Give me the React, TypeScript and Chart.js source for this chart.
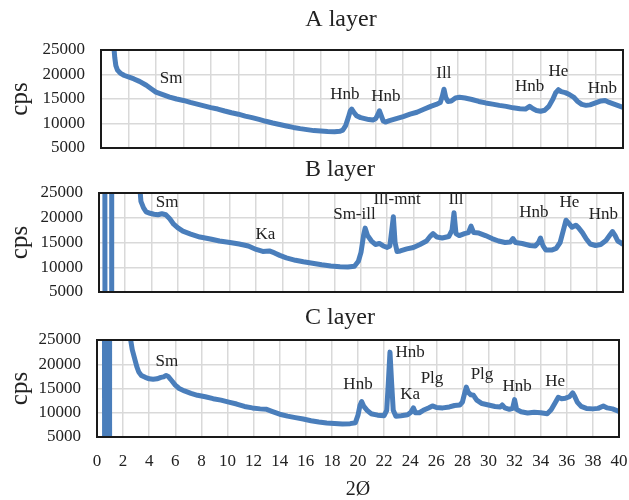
import React, { useEffect, useRef } from 'react';
import { Chart, registerables } from 'chart.js';

Chart.register(...registerables);

// ---------- data ----------
const yTickValues = [5000, 10000, 15000, 20000, 25000];
const xTickStep = 2;

// A layer
const aAngle = [2.94, 3.0, 3.08, 3.2, 3.4, 3.7, 4.0, 4.4, 4.8, 5.3, 5.7, 6.0, 6.5, 7.0, 7.5, 8.0, 8.5, 9.0, 9.5, 10.0, 10.5, 11.0, 11.5, 12.0, 12.5, 13.0, 13.5, 14.0, 14.5, 15.0, 15.5, 16.0, 16.5, 17.0, 17.5, 18.0, 18.5, 19.0, 19.4, 19.6, 19.8, 20.0, 20.15, 20.25, 20.4, 20.6, 20.9, 21.2, 21.5, 21.8, 22.0, 22.15, 22.27, 22.4, 22.55, 22.7, 23.0, 23.5, 24.0, 24.5, 25.0, 25.5, 26.0, 26.4, 26.7, 26.85, 26.97, 27.1, 27.25, 27.5, 27.8, 28.1, 28.5, 29.0, 29.5, 30.0, 30.5, 31.0, 31.5, 32.0, 32.5, 32.9, 33.2, 33.45, 33.7, 34.0, 34.3, 34.6, 34.9, 35.1, 35.3, 35.5, 35.8, 36.1, 36.4, 36.7, 37.0, 37.3, 37.6, 38.0, 38.4, 38.7, 39.0, 39.3, 39.6, 40.0];
const aCps = [25500, 23500, 21800, 20900, 20300, 19800, 19500, 19100, 18600, 17800, 17000, 16400, 15900, 15400, 15000, 14700, 14300, 13950, 13600, 13250, 12950, 12550, 12200, 11900, 11500, 11200, 10850, 10450, 10100, 9800, 9500, 9200, 8950, 8750, 8550, 8450, 8350, 8300, 8400, 8650, 9500, 11200, 12600, 12950, 12300, 11600, 11200, 11000, 10800, 10700, 11000, 11800, 12600, 11600, 10500, 10300, 10600, 11000, 11400, 11900, 12300, 12900, 13500, 13900, 14300, 15600, 17000, 15300, 14500, 14600, 15200, 15350, 15200, 14900, 14500, 14200, 13950, 13700, 13500, 13200, 13000, 12950, 13500, 13000, 12650, 12500, 12700, 13500, 15000, 16300, 16900, 16500, 16300, 15900, 15400, 14500, 13900, 13700, 13800, 14200, 14600, 14700, 14300, 14000, 13700, 13300];
const aPeakNames = ['Sm', 'Hnb', 'Hnb', 'Ill', 'Hnb', 'He', 'Hnb'];
const aPeakAngle = [7.1, 19.76, 22.74, 26.96, 33.2, 35.3, 38.5];
const aPeakCps = [19080, 15820, 15410, 20100, 17450, 20700, 17040];

// B layer
const bAngle = [0.44, 0.46, 0.95, 0.97, 3.0, 3.12, 3.2, 3.4, 3.6, 3.9, 4.2, 4.5, 4.8, 5.1, 5.4, 5.7, 6.0, 6.4, 7.0, 7.7, 8.5, 9.2, 10.0, 10.7, 11.4, 12.0, 12.5, 13.0, 13.4, 13.8, 14.3, 15.0, 15.6, 16.3, 17.0, 17.7, 18.4, 19.0, 19.5, 19.8, 20.0, 20.2, 20.32, 20.5, 20.8, 21.1, 21.4, 21.7, 22.0, 22.2, 22.35, 22.47, 22.6, 22.75, 23.0, 23.5, 24.0, 24.5, 25.0, 25.3, 25.5, 25.8, 26.2, 26.7, 26.95, 27.1, 27.25, 27.5, 27.9, 28.2, 28.4, 28.6, 29.0, 29.5, 30.0, 30.5, 31.0, 31.4, 31.6, 31.8, 32.3, 32.9, 33.3, 33.55, 33.7, 33.9, 34.1, 34.6, 34.9, 35.2, 35.45, 35.65, 35.85, 36.1, 36.4, 36.6, 36.9, 37.2, 37.5, 37.9, 38.3, 38.7, 39.0, 39.2, 39.4, 39.6, 39.8, 40.0];
const bCps = [60000, -20000, -20000, 60000, 60000, 26000, 23300, 22000, 21200, 20900, 20700, 20600, 20800, 20600, 19800, 18700, 18000, 17300, 16700, 16100, 15700, 15300, 15000, 14700, 14300, 13600, 13200, 13300, 12900, 12400, 11900, 11400, 11100, 10800, 10500, 10250, 10100, 10050, 10200, 11200, 13000, 16500, 17900, 16400, 15300, 14600, 14800, 14300, 14000, 14300, 17500, 20200, 15000, 13200, 13300, 13700, 14000, 14600, 15300, 16300, 16800, 16100, 15900, 16200, 17500, 21000, 16800, 16400, 16800, 17000, 18300, 17000, 16900, 16400, 15800, 15300, 15000, 15100, 15800, 15000, 14800, 14400, 14300, 15000, 15900, 14300, 13500, 13500, 13800, 15000, 17500, 19500, 18900, 18100, 18500, 18000, 17000, 15700, 14700, 14400, 14600, 15400, 16500, 17200, 16400, 15300, 15000, 14600];
const bPeakNames = ['Sm', 'Ka', 'Sm-ill', 'Ill-mnt', 'Ill', 'Hnb', 'He', 'Hnb'];
const bPeakAngle = [5.2, 12.7, 19.5, 22.75, 27.25, 33.2, 35.9, 38.5];
const bPeakCps = [22980, 16520, 20560, 23590, 23590, 20960, 22980, 20560];

// C layer
const cAngle = [0.56, 0.59, 0.62, 0.65, 0.68, 0.71, 0.74, 0.77, 0.8, 0.83, 0.86, 0.89, 0.92, 0.95, 0.98, 2.5, 2.55, 2.7, 2.9, 3.05, 3.2, 3.4, 3.7, 4.0, 4.3, 4.6, 4.9, 5.1, 5.3, 5.45, 5.7, 6.0, 6.3, 6.7, 7.2, 7.7, 8.3, 8.9, 9.5, 10.1, 10.7, 11.3, 11.9, 12.5, 13.0, 13.4, 14.0, 14.6, 15.2, 15.8, 16.4, 17.0, 17.6, 18.2, 18.8, 19.4, 19.8, 20.0, 20.15, 20.28, 20.45, 20.7, 21.0, 21.5, 22.0, 22.2, 22.32, 22.45, 22.58, 22.7, 22.9, 23.3, 23.8, 24.05, 24.25, 24.4, 24.7, 25.0, 25.4, 25.7, 26.0, 26.5, 27.0, 27.4, 27.8, 28.0, 28.15, 28.3, 28.45, 28.65, 28.85, 29.1, 29.5, 30.0, 30.5, 30.9, 31.05, 31.25, 31.6, 31.85, 32.0, 32.15, 32.5, 33.0, 33.5, 34.0, 34.5, 34.8, 35.1, 35.35, 35.6, 35.9, 36.2, 36.45, 36.6, 36.8, 37.1, 37.5, 38.0, 38.4, 38.8, 39.1, 39.5, 40.0];
const cCps = [60000, -20000, 60000, -20000, 60000, -20000, 60000, -20000, 60000, -20000, 60000, -20000, 60000, -20000, 60000, 60000, 25500, 23000, 21000, 19500, 18400, 17700, 17300, 17000, 16900, 17000, 17300, 17400, 17700, 17500, 16700, 15700, 15000, 14500, 14000, 13600, 13300, 12900, 12600, 12200, 11800, 11300, 11000, 10800, 10700, 10300, 9700, 9300, 9000, 8700, 8350, 8100, 7900, 7800, 7700, 7750, 7950, 9500, 11500, 12300, 11300, 10500, 9800, 9500, 9400, 10500, 16000, 22500, 16000, 10500, 9300, 9400, 9600, 10100, 11000, 10000, 10000, 10500, 11000, 11400, 11100, 11000, 11200, 11500, 11600, 12200, 13800, 15300, 14200, 13700, 13600, 12600, 11900, 11600, 11300, 11200, 11600, 11000, 10700, 10900, 12700, 10700, 10200, 9950, 10100, 10000, 9800, 10600, 12000, 13200, 12900, 13000, 13300, 14100, 13400, 12200, 11300, 10900, 10800, 10900, 11400, 11000, 10800, 10300];
const cPeakNames = ['Sm', 'Hnb', 'Hnb', 'Ka', 'Plg', 'Plg', 'Hnb', 'He'];
const cPeakAngle = [5.36, 20.0, 24.0, 24.0, 25.67, 29.5, 32.2, 35.1];
const cPeakCps = [20470, 15730, 22320, 13670, 16970, 17790, 15320, 16350];

// ---------- styling ----------
const SERIF = "'Liberation Serif', 'Times New Roman', serif";
const TEXT = '#222222';
const LINE = '#4a7ebb';
const GRID = '#d9d9d9';

const framePlugin = {
  id: 'frame',
  afterDatasetsDraw(chart: any, _args: any, opts: any) {
    const { ctx, chartArea: ca, scales } = chart;
    ctx.save();
    ctx.strokeStyle = '#1a1a1a';
    ctx.lineWidth = 2;
    ctx.strokeRect(ca.left, ca.top, ca.right - ca.left, ca.bottom - ca.top);
    ctx.fillStyle = TEXT;
    ctx.textAlign = 'center';
    ctx.textBaseline = 'middle';
    // panel title
    ctx.font = `24px ${SERIF}`;
    ctx.fillText(opts.title, opts.titleX, opts.titleY);
    // peak labels
    ctx.font = `17px ${SERIF}`;
    const names: string[] = opts.names || [];
    names.forEach((n, i) => {
      ctx.fillText(n, scales.x.getPixelForValue(opts.xs[i]), scales.y.getPixelForValue(opts.ys[i]));
    });
    ctx.restore();
  },
};

type Panel = {
  title: string;
  angles: number[];
  cps: number[];
  names: string[];
  xs: number[];
  ys: number[];
  xMin: number;
  showX: boolean;
  top: number;
  height: number;
  left: number;
  right: number;
  padTop: number;
  padBottom: number;
  xHeight: number;
  titleX: number;
  titleY: number;
};

function makeChart(canvas: HTMLCanvasElement, p: Panel) {
  return new Chart(canvas, {
    type: 'scatter',
    data: {
      datasets: [
        {
          data: p.angles.map((a, i) => ({ x: a, y: p.cps[i] })),
          showLine: true,
          borderColor: LINE,
          backgroundColor: LINE,
          borderWidth: 5,
          borderJoinStyle: 'round',
          pointRadius: 0,
          pointHoverRadius: 0,
          tension: 0,
          clip: 0,
        } as any,
      ],
    },
    options: {
      responsive: false,
      animation: false,
      events: [],
      layout: { padding: { left: 0, right: 629 - p.right, top: p.padTop, bottom: p.padBottom } },
      plugins: {
        legend: { display: false },
        tooltip: { enabled: false },
        title: { display: false },
        frame: { names: p.names, xs: p.xs, ys: p.ys, title: p.title, titleX: p.titleX, titleY: p.titleY },
      } as any,
      scales: {
        x: {
          type: 'linear',
          min: p.xMin,
          max: 40,
          ticks: {
            stepSize: xTickStep,
            display: p.showX,
            autoSkip: false,
            maxRotation: 0,
            color: TEXT,
            padding: 14,
            font: { family: SERIF, size: 17 },
          },
          grid: { color: GRID, lineWidth: 1.5, drawTicks: false },
          border: { display: false },
          title: {
            display: p.showX,
            text: '2Ø',
            color: TEXT,
            font: { family: SERIF, size: 20, lineHeight: 1 },
            padding: { top: 0, bottom: 0 },
          },
          afterFit: (s: any) => {
            s.height = p.xHeight;
            s.paddingLeft = 0;
            s.paddingRight = 0;
          },
        },
        y: {
          type: 'linear',
          min: yTickValues[0],
          max: yTickValues[yTickValues.length - 1],
          afterBuildTicks: (s: any) => {
            s.ticks = yTickValues.map((v) => ({ value: v }));
          },
          ticks: {
            color: TEXT,
            padding: 16,
            font: { family: SERIF, size: 17 },
            callback: (v: any) => String(v),
          },
          grid: { color: GRID, lineWidth: 1.5, drawTicks: false },
          border: { display: false },
          title: {
            display: true,
            text: 'cps',
            color: TEXT,
            font: { family: SERIF, size: 25 },
            padding: { top: 5, bottom: 0 },
          },
          afterFit: (s: any) => {
            s.width = p.left;
            s.paddingTop = 0;
            s.paddingBottom = 0;
          },
        },
      },
    } as any,
    plugins: [framePlugin],
  });
}

const panels: Panel[] = [
  {
    title: 'A layer', angles: aAngle, cps: aCps, names: aPeakNames, xs: aPeakAngle, ys: aPeakCps,
    xMin: 2, showX: false, top: 0, height: 160, left: 101, right: 623,
    padTop: 50, padBottom: 12, xHeight: 0, titleX: 341, titleY: 20,
  },
  {
    title: 'B layer', angles: bAngle, cps: bCps, names: bPeakNames, xs: bPeakAngle, ys: bPeakCps,
    xMin: 0, showX: false, top: 150, height: 150, left: 99, right: 623,
    padTop: 43, padBottom: 8, xHeight: 0, titleX: 340, titleY: 20,
  },
  {
    title: 'C layer', angles: cAngle, cps: cCps, names: cPeakNames, xs: cPeakAngle, ys: cPeakCps,
    xMin: 0, showX: true, top: 300, height: 200, left: 97, right: 619,
    padTop: 40, padBottom: 0, xHeight: 63, titleX: 340, titleY: 18,
  },
];

export default function App() {
  const refs = [useRef<HTMLCanvasElement>(null), useRef<HTMLCanvasElement>(null), useRef<HTMLCanvasElement>(null)];

  useEffect(() => {
    const charts = panels.map((p, i) => makeChart(refs[i].current as HTMLCanvasElement, p));
    return () => charts.forEach((c) => c.destroy());
  }, []);

  return (
    <div style={{ position: 'absolute', left: 0, top: 0, width: 629, height: 500, background: '#ffffff' }}>
      {panels.map((p, i) => (
        <canvas
          key={p.title}
          ref={refs[i]}
          width={629}
          height={p.height}
          style={{ position: 'absolute', left: 0, top: p.top, width: 629, height: p.height }}
        />
      ))}
    </div>
  );
}
